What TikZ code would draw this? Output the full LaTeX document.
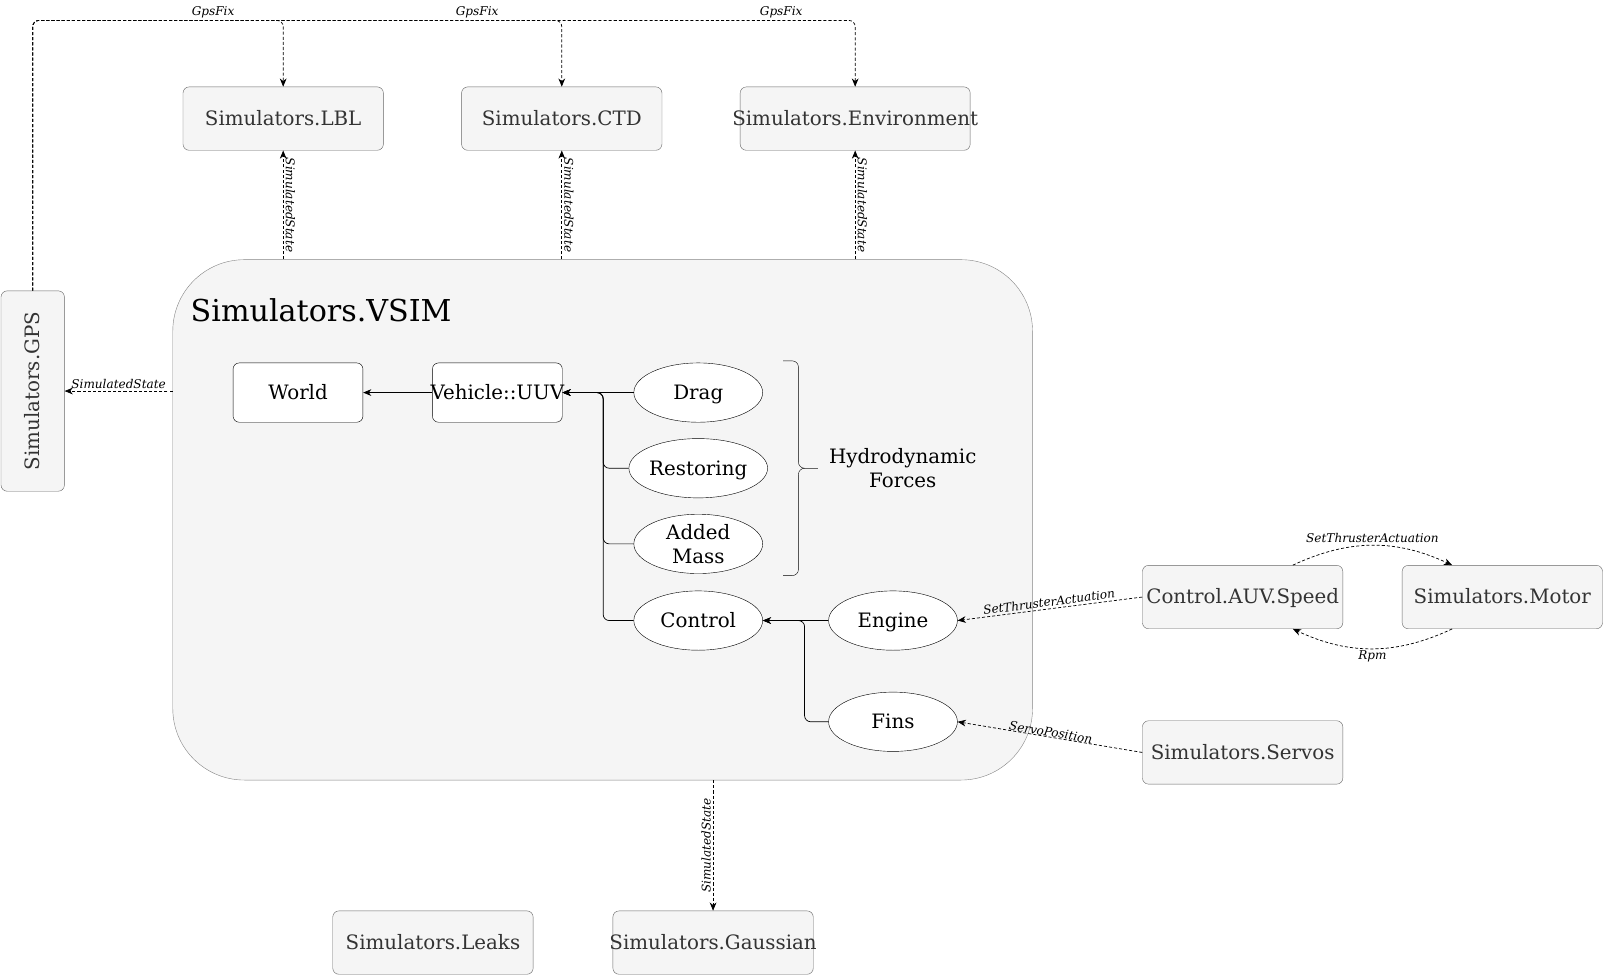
\documentclass[tikz,border=0pt]{standalone}
\usepackage{fontspec}
\setmainfont{DejaVu Serif}
\usetikzlibrary{shapes,arrows.meta,positioning,calc}

\definecolor{boxfill}{HTML}{F5F5F5}
\definecolor{boxline}{HTML}{666666}
\definecolor{boxtext}{HTML}{333333}

\newcommand{\boxfont}{\fontsize{19.4}{23.5}\selectfont}
\newcommand{\tagfont}{\itshape\fontsize{11.8}{14}\selectfont}
\newcommand{\spill}[1]{\makebox[0pt]{#1}}

\tikzset{
  simbox/.style={draw=boxline, fill=boxfill, text=boxtext, rounded corners=6pt,
    minimum width=196pt, minimum height=62pt, inner sep=0pt, font=\boxfont,
    text height=16pt, text depth=2.5pt},
  container/.style={draw=boxline!80, fill=boxfill, rounded corners=70pt,
    minimum width=841pt, minimum height=509pt, inner sep=0pt},
  part/.style={draw, fill=white, rounded corners=6pt, minimum width=127pt,
    minimum height=58pt, inner sep=0pt, font=\boxfont,
    text height=16pt, text depth=2.5pt},
  force/.style={ellipse, draw, fill=white, minimum width=126pt, minimum height=58pt,
    inner sep=0pt, font=\boxfont, text height=16pt, text depth=2.5pt},
  tip/.style={-{Stealth[length=8pt, width=6.5pt, inset=2.5pt]}},
  msg/.style={densely dashed, tip, line width=0.7pt},
  flow/.style={tip, line width=0.7pt, rounded corners=6pt},
  tag/.style={font=\tagfont, inner sep=2pt}
}

\begin{document}
\begin{tikzpicture}[x=1pt, y=-1pt]
\useasboundingbox (0,0) rectangle (1568,954);

% VSIM container
\node[container] (vsim) at (589.5,508.5) {};
\node[anchor=west, font=\fontsize{29.5}{34}\selectfont] (vsimtitle) at (183,303) {Simulators.VSIM};

% Outer simulators
\node[simbox] (lbl) at (277,116) {Simulators.LBL};
\node[simbox] (ctd) at (549.5,116) {Simulators.CTD};
\node[simbox, minimum width=225pt] (env) at (836.5,116) {\spill{Simulators.Environment}};
\node[simbox, rotate=90] (gps) at (32,382.5) {Simulators.GPS};
\node[simbox] (speed) at (1215.5,584) {\spill{Control.AUV.Speed}};
\node[simbox] (motor) at (1469.5,584) {Simulators.Motor};
\node[simbox] (servos) at (1215.5,736) {Simulators.Servos};
\node[simbox] (leaks) at (423.5,922) {Simulators.Leaks};
\node[simbox] (gauss) at (697.5,922) {\spill{Simulators.Gaussian}};

% Inside VSIM
\node[part] (world) at (291.5,384) {World};
\node[part] (uuv) at (486.5,384) {\spill{Vehicle::UUV}};
\node[force] (drag) at (683,384) {Drag};
\node[force] (restoring) at (683,458) {Restoring};
\node[force, align=center, text height={}, text depth={}, inner ysep=-12pt] (added) at (683,532) {Added\\Mass};
\node[force] (control) at (683,607) {Control};
\node[force] (engine) at (873.5,607) {Engine};
\node[force] (fins) at (873.5,706) {Fins};
\node[align=center, font=\boxfont] (hydro) at (883,458) {Hydrodynamic\\Forces};

% Brace round the hydrodynamic forces
\draw[rounded corners=6pt] (766,353) -- (781,353) -- (781,458) -- (800,458);
\draw[rounded corners=6pt] (800,458) -- (781,458) -- (781,563) -- (766,563);

% Force flow
\draw[flow] (uuv.west) -- (world.east);
\draw[flow] (drag.west) -- (uuv.east);
\coordinate (forcebus) at (590,384);
\foreach \f in {restoring,added,control}
  \draw[flow] (\f.west) -| (forcebus) -- (uuv.east);
\draw[flow] (engine.west) -- (control.east);
\coordinate (ctrlbus) at (787,607);
\draw[flow] (fins.west) -| (ctrlbus) -- (control.east);

% GpsFix
\coordinate (fixcorner) at (32,20);
\draw[msg, rounded corners=6pt] (gps.east) -- (fixcorner)
  -- node[tag, above, pos=0.72] {GpsFix} (lbl.north |- fixcorner) -- (lbl.north);
\draw[msg, rounded corners=6pt] (gps.east) -- (fixcorner)
  -- node[tag, above, pos=0.84] {GpsFix} (ctd.north |- fixcorner) -- (ctd.north);
\draw[msg, rounded corners=6pt] (gps.east) -- (fixcorner)
  -- node[tag, above, pos=0.91] {GpsFix} (env.north |- fixcorner) -- (env.north);

% SimulatedState
\foreach \s in {lbl,ctd,env}
  \draw[msg] (vsim.north -| \s.south) -- node[tag, rotate=-90, anchor=south] {SimulatedState} (\s.south);
\draw[msg] (vsim.west |- gps.center) -- node[tag, above] {SimulatedState} (gps.south);
\draw[msg] (vsim.south -| gauss.north) -- node[tag, rotate=90, anchor=south] {SimulatedState} (gauss.north);

% Actuation
\draw[msg] (speed.west) -- node[tag, sloped, above] {SetThrusterActuation} (engine.east);
\draw[msg] (servos.west) -- node[tag, sloped, above, inner sep=0pt] {ServoPosition} (fins.east);
\draw[msg] ($(speed.north)!0.5!(speed.north east)$) to[bend left=25]
  node[tag, above] {SetThrusterActuation} ($(motor.north west)!0.5!(motor.north)$);
\draw[msg] ($(motor.south west)!0.5!(motor.south)$) to[bend left=25]
  node[tag, below] {Rpm} ($(speed.south)!0.5!(speed.south east)$);

\end{tikzpicture}
\end{document}
